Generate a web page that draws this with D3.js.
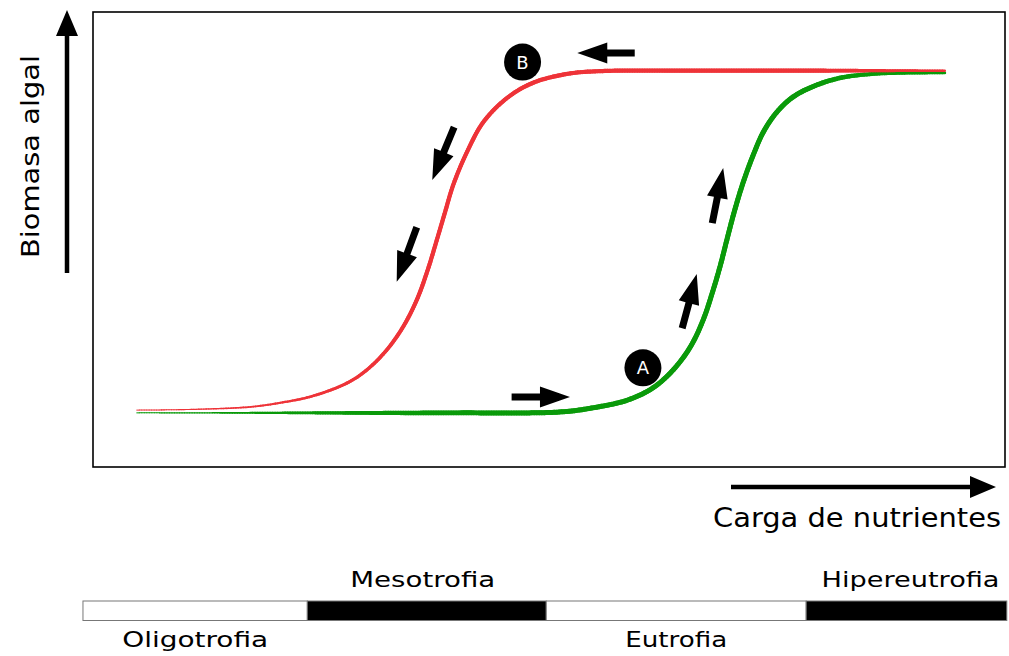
<!DOCTYPE html>
<html>
<head>
<meta charset="utf-8">
<script src="https://cdn.jsdelivr.net/npm/d3@7"></script>
<style>
  body { margin: 0; background: #fff; }
  text { font-family: "Century Gothic", "DejaVu Sans", sans-serif; fill: #000; }
</style>
</head>
<body>
<svg id="canvas"></svg>
<script>
// nutrient load (x) and algal biomass (y), arbitrary units 0-100
const redX = [4.8, 11.7, 17.2, 20.5, 24.1, 27.9, 30.0, 32.2, 34.0, 35.5, 36.7, 37.7, 38.6, 39.5, 41.0, 42.8, 45.4, 48.2, 52.0, 55.6, 66.6, 93.4];
const redY = [12.5, 12.7, 13.2, 14.1, 15.6, 18.5, 21.3, 25.7, 30.8, 36.7, 43.3, 49.9, 56.0, 62.0, 69.2, 75.8, 81.1, 84.4, 86.4, 87.0, 87.1, 87.1];
const greenX = [4.8, 22.7, 39.1, 51.2, 54.8, 58.6, 61.4, 63.6, 65.5, 66.9, 68.0, 68.8, 69.5, 70.3, 71.3, 72.4, 73.5, 74.9, 76.6, 78.8, 81.9, 85.7, 93.4];
const greenY = [11.9, 11.9, 11.9, 12.1, 13.0, 14.7, 17.4, 21.3, 26.4, 32.3, 38.9, 44.4, 49.9, 56.0, 62.6, 68.6, 73.6, 77.8, 81.1, 83.5, 85.5, 86.4, 86.6];

// direction arrows: [tailX, tailY, tipX, tipY]
const arrows = [
  [59.4, 91.0, 53.1, 91.0],
  [45.9, 15.4, 52.3, 15.4],
  [39.6, 74.7, 37.2, 63.1],
  [35.5, 52.7, 33.3, 40.7],
  [67.9, 53.6, 69.1, 65.7],
  [64.6, 30.5, 66.2, 42.4]
];
const markers = [
  { label: "B", x: 47.1, y: 89.0 },
  { label: "A", x: 60.3, y: 21.8 }
];

// trophic state bar
const trophicNames = ["Oligotrofia", "Mesotrofia", "Eutrofia", "Hipereutrofia"];
const trophicBreaks = [-1.1, 23.5, 49.7, 78.2, 100.2];

const width = 1009, height = 656;
const svg = d3.select("#canvas").attr("width", width).attr("height", height);

const mLeft = 93, mRight = 1005, mTop = 12, mBottom = 467;
const x = d3.scaleLinear().domain([0, 100]).range([mLeft, mRight]);
const y = d3.scaleLinear().domain([0, 100]).range([mBottom, mTop]);

// plot frame
svg.append("rect")
  .attr("x", mLeft).attr("y", mTop)
  .attr("width", mRight - mLeft).attr("height", mBottom - mTop)
  .attr("fill", "none").attr("stroke", "#000").attr("stroke-width", 1.6);

// curves drawn as short segments so the line can taper at its ends
const line = d3.line().x(d => x(d[0])).y(d => y(d[1])).curve(d3.curveCatmullRom.alpha(0.5));

function smooth(a, b, t) {
  const u = Math.max(0, Math.min(1, (t - a) / (b - a)));
  return u * u * (3 - 2 * u);
}

function taperedCurve(xs, ys, color, wMax) {
  const pts = xs.map((v, i) => [v, ys[i]]);
  const tmp = svg.append("path").attr("d", line(pts)).attr("fill", "none");
  const node = tmp.node();
  const total = node.getTotalLength();
  const n = 400;
  const samples = d3.range(n + 1).map(i => node.getPointAtLength(total * i / n));
  tmp.remove();
  const g = svg.append("g");
  for (let i = 0; i < n; i++) {
    const t = i / n;
    const w = 1 + (wMax - 1) * smooth(0, 0.35, t) * (1 - 0.55 * smooth(0.85, 1, t));
    g.append("line")
      .attr("x1", samples[i].x).attr("y1", samples[i].y)
      .attr("x2", samples[i + 1].x).attr("y2", samples[i + 1].y)
      .attr("stroke", color)
      .attr("stroke-width", w)
      .attr("stroke-linecap", "round");
  }
}

taperedCurve(greenX, greenY, "#0a9a0a", 5);
taperedCurve(redX, redY, "#ee3338", 4.2);

// block arrows
function blockArrow(g, x1, y1, x2, y2, shaft, headLen, headHalf) {
  const dx = x2 - x1, dy = y2 - y1;
  const len = Math.hypot(dx, dy);
  const ang = Math.atan2(dy, dx) * 180 / Math.PI;
  const s = shaft / 2;
  const p = [
    [0, -s], [len - headLen, -s], [len - headLen, -headHalf], [len, 0],
    [len - headLen, headHalf], [len - headLen, s], [0, s]
  ];
  g.append("path")
    .attr("d", "M" + p.map(q => q.join(",")).join("L") + "Z")
    .attr("transform", `translate(${x1},${y1}) rotate(${ang})`)
    .attr("fill", "#000");
}

const ag = svg.append("g");
arrows.forEach(a => blockArrow(ag, x(a[0]), y(a[1]), x(a[2]), y(a[3]), 7, 30, 10.5));

// A / B markers
const mg = svg.selectAll(".marker").data(markers).join("g").attr("class", "marker");
mg.append("circle")
  .attr("cx", d => x(d.x)).attr("cy", d => y(d.y)).attr("r", 18.5)
  .attr("fill", "#000");
mg.append("text")
  .attr("x", d => x(d.x)).attr("y", d => y(d.y) + 6.5)
  .attr("text-anchor", "middle")
  .attr("font-size", 18)
  .style("fill", "#fff")
  .text(d => d.label);

// axis arrows
blockArrow(svg, 67, 273, 67, 10, 4.5, 26, 11);
blockArrow(svg, 731, 487, 996, 487, 4.5, 26, 11);

svg.append("text")
  .attr("transform", "translate(39,258) rotate(-90)")
  .attr("font-size", 25)
  .attr("textLength", 203).attr("lengthAdjust", "spacingAndGlyphs")
  .text("Biomasa algal");

svg.append("text")
  .attr("x", 713).attr("y", 527)
  .attr("font-size", 26)
  .attr("textLength", 288).attr("lengthAdjust", "spacingAndGlyphs")
  .text("Carga de nutrientes");

// trophic bar
const barTop = 601, barH = 19.5;
const labelWidths = [146, 145, 102, 178];
const segs = trophicNames.map((name, i) => ({
  name, i, x0: trophicBreaks[i], x1: trophicBreaks[i + 1]
}));

svg.selectAll(".seg").data(segs).join("rect")
  .attr("class", "seg")
  .attr("x", d => x(d.x0)).attr("y", barTop)
  .attr("width", d => x(d.x1) - x(d.x0)).attr("height", barH)
  .attr("fill", d => d.i % 2 ? "#000" : "#fff")
  .attr("stroke", "#777").attr("stroke-width", 1);

svg.selectAll(".seglabel").data(segs).join("text")
  .attr("class", "seglabel")
  .attr("x", d => (x(d.x0) + x(d.x1)) / 2 + (d.i === 3 ? 4 : (d.i === 1 ? -4 : 0)))
  .attr("y", d => d.i % 2 ? 587 : 647)
  .attr("text-anchor", "middle")
  .attr("font-size", 22)
  .attr("textLength", d => labelWidths[d.i]).attr("lengthAdjust", "spacingAndGlyphs")
  .text(d => d.name);
</script>
</body>
</html>
